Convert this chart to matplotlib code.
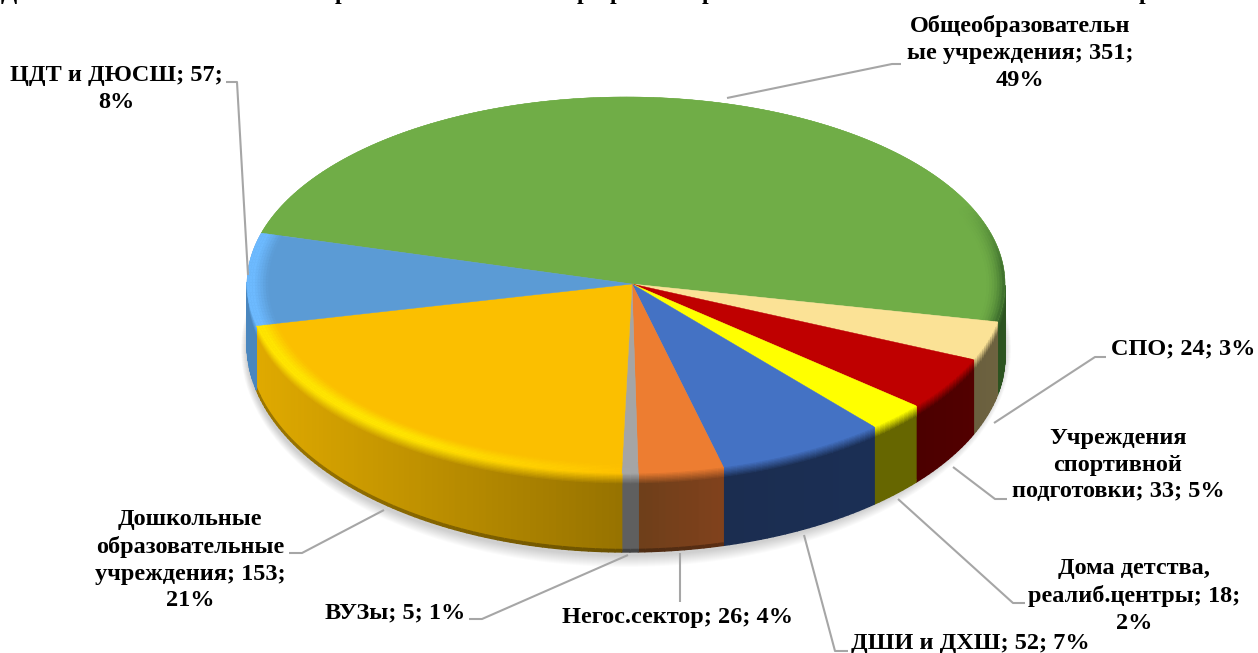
import matplotlib
matplotlib.use('Agg')
import matplotlib.pyplot as plt
from matplotlib.collections import PolyCollection
from matplotlib.colors import to_rgb
import numpy as np

categories = ['Общеобразовательные учреждения', 'СПО', 'Учреждения спортивной подготовки',
              'Дома детства, реалиб.центры', 'ДШИ и ДХШ', 'Негос.сектор', 'ВУЗы',
              'Дошкольные образовательные учреждения', 'ЦДТ и ДЮСШ']
values = [351, 24, 33, 18, 52, 26, 5, 153, 57]
face_colors = ['#70AD47', '#FBE296', '#BF0000', '#FFFF00', '#4472C4', '#ED7D31', '#A5A5A5', '#FBBF00', '#5B9BD5']
wall_left = ['#3A6A2C', '#6E6340', '#520000', '#666600', '#1B2F55', '#80411C', '#5F5F5F', '#E0AA00', '#4A86BE']
wall_right = ['#2C5320', '#6A5F3E', '#4C0000', '#666600', '#1B2D50', '#6F3F1A', '#5F5F5F', '#937000', '#4A86BE']

label_texts = ['Общеобразовательн\nые учреждения; 351;\n49%', 'СПО; 24; 3%', 'Учреждения\nспортивной\nподготовки; 33; 5%',
               'Дома детства,\nреалиб.центры; 18;\n2%', 'ДШИ и ДХШ; 52; 7%', 'Негос.сектор; 26; 4%', 'ВУЗы; 5; 1%',
               'Дошкольные\nобразовательные\nучреждения; 153;\n21%', 'ЦДТ и ДЮСШ; 57;\n8%']
label_x = [1020, 1183, 1118, 1134, 970, 677, 395, 190, 116]
label_y = [53, 349, 465, 596, 644, 618, 613, 560, 89]
leader_x = [[727, 892, 901], [994, 1095, 1106], [953, 995, 1007], [898, 1013, 1025], [804, 835, 848],
            [680, 680], [628, 482, 469], [384, 302, 289], [248, 237, 226]]
leader_y = [[98, 64, 64], [423, 357, 357], [467, 499, 499], [499, 603, 603], [535, 651, 651],
            [553, 602], [555, 619, 619], [510, 553, 553], [275, 82, 82]]

# feet of the cut off title line at the top edge
title_letters = ['Д', 'р', 'р', 'р', 'р', 'р']
title_x = [9, 341, 583, 616, 708, 1145]

START = 164.2
APEX = (632, 284)
RIM_CX = 626
RX = 379


def pt(theta, r=1.0):
    t = np.radians(theta)
    ry = np.where(np.sin(t) > 0, 187, 189)
    x = APEX[0] + (RIM_CX - APEX[0]) * r + RX * r * np.cos(t)
    y = APEX[1] - ry * r * np.sin(t)
    return x, y


def bottom_y(theta):
    t = np.radians(theta)
    s = -np.sin(t)
    left = np.cos(t) < 0
    return np.where(left, 344 + 208 * s, 356 + 196 * s)


def mix(a, b, t):
    t = np.clip(t, 0, 1)
    return tuple(np.array(a) * (1 - t) + np.array(b) * t)


def rim_color(i, theta, t):
    face = np.array(to_rgb(face_colors[i]))
    c = np.cos(np.radians(theta))
    bright = np.clip(-c * 1.6 + 0.05, 0, 1)
    if i == 0:
        bright = 0
    peak = np.clip(face * (1 + 0.2 * bright), 0, 1)
    out = mix(face, peak, t * 1.5)
    if i == 0 and -15 < theta < 25:
        out = mix(out, to_rgb(wall_left[0]), t**2 * np.clip((25 - theta) / 20, 0, 1) * (c > 0))
    return out


fig = plt.figure(figsize=(12.58, 6.53), dpi=100)
ax = fig.add_axes([0, 0, 1, 1])
ax.set_xlim(0, 1258)
ax.set_ylim(653, 0)
ax.axis('off')

edges = START - np.concatenate([[0], np.cumsum(values)]) / np.sum(values) * 360

# soft shadow under the pie
th = np.linspace(0, 360, 200)
for e in range(12, 0, -1):
    xs = RIM_CX + (RX + e * 0.5) * np.cos(np.radians(th))
    ys = 346 + (206 + e) * -np.sin(np.radians(th)) + 3
    ax.fill(xs, ys, color='black', alpha=0.016, lw=0, zorder=1)

polys, cols = [], []
for i in range(len(values)):
    a0, a1 = edges[i], edges[i + 1]
    n = max(2, int(abs(a1 - a0) / 1.0))
    ang = np.linspace(a0, a1, n + 1)
    for k in range(n):
        b0, b1 = ang[k], ang[k + 1]
        mid = (b0 + b1) / 2
        s = -np.sin(np.radians(mid))
        if s < -0.001 and not (-12 < mid < 3):
            continue
        if np.cos(np.radians(mid)) > 0 and mid > 0:
            continue
        x0, y0 = pt(b0)
        x1, y1 = pt(b1)
        yb0, yb1 = bottom_y(b0), bottom_y(b1)
        frac = (x0 + x1) / 2
        f = np.clip((frac - 255) / (640 - 255), 0, 1) if i == 7 else k / max(n - 1, 1)
        base = mix(to_rgb(wall_left[i]), to_rgb(wall_right[i]), f)
        top = rim_color(i, mid, 1)
        stops = np.linspace(0, 1, 9)
        grad_h = 11 / max(yb0 - y0, 1)
        levels = list(stops * grad_h) + [1 - 2.5 / max(yb0 - y0, 1), 1]
        dark = 0.3 if i in (5, 6, 7) else 0.0
        for j in range(len(levels) - 1):
            l0, l1 = levels[j], levels[j + 1]
            if j < len(stops) - 1:
                col = mix(top, base, (l0 / grad_h))
            elif j == len(stops) - 1:
                col = base
            else:
                col = mix(base, (0, 0, 0), dark)
            polys.append([(x0, y0 + (yb0 - y0) * l0), (x1, y1 + (yb1 - y1) * l0),
                          (x1, y1 + (yb1 - y1) * l1), (x0, y0 + (yb0 - y0) * l1)])
            cols.append(col)
ax.add_collection(PolyCollection(polys, facecolors=cols, edgecolors=cols, linewidths=1.0, zorder=2))

# top face
for i in range(len(values)):
    ang = np.linspace(edges[i], edges[i + 1], 200)
    xs, ys = pt(ang)
    ax.fill(np.r_[APEX[0], xs], np.r_[APEX[1], ys], color=face_colors[i], lw=0.3, zorder=3)

# bevel band along the rim of the top face
ring_r = np.linspace(0.945, 1.0, 9)
polys, cols = [], []
for i in range(len(values)):
    a0, a1 = edges[i], edges[i + 1]
    n = max(2, int(abs(a1 - a0) / 1.0))
    ang = np.linspace(a0, a1, n + 1)
    for k in range(n):
        mid = (ang[k] + ang[k + 1]) / 2
        for j in range(len(ring_r) - 1):
            t = (j + 0.5) / (len(ring_r) - 1)
            x00, y00 = pt(ang[k], ring_r[j])
            x01, y01 = pt(ang[k + 1], ring_r[j])
            x11, y11 = pt(ang[k + 1], ring_r[j + 1])
            x10, y10 = pt(ang[k], ring_r[j + 1])
            polys.append([(x00, y00), (x01, y01), (x11, y11), (x10, y10)])
            cols.append(rim_color(i, mid, t))
ax.add_collection(PolyCollection(polys, facecolors=cols, edgecolors=cols, linewidths=0.3, zorder=4))

# leader lines and labels
for lx, ly in zip(leader_x, leader_y):
    ax.plot(lx, ly, color='#A6A6A6', lw=1.5, zorder=5, solid_capstyle='butt')

for txt, x, y in zip(label_texts, label_x, label_y):
    ax.text(x, y, txt, ha='center', va='center', fontsize=17.5, fontweight='bold',
            family='Liberation Serif', color='black', linespacing=1.36, zorder=6)

for ch, x in zip(title_letters, title_x):
    ax.text(x, -1, ch, ha='center', va='baseline', fontsize=17, fontweight='bold',
            family='Liberation Serif', color='black', zorder=6)

fig.savefig('out.png', dpi=100)
